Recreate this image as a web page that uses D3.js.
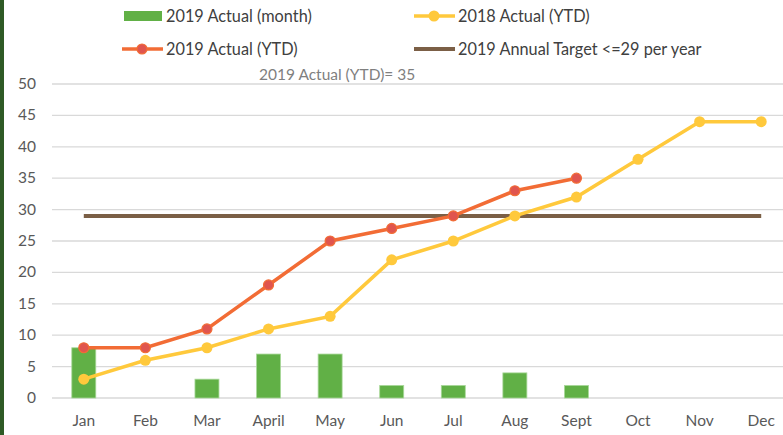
<!DOCTYPE html>
<html>
<head>
<meta charset="utf-8">
<script src="https://cdn.jsdelivr.net/npm/d3@7"></script>
<style>
  body { margin: 0; background: #fff; }
  svg { display: block; font-family: Lato, "Open Sans", sans-serif; }
</style>
</head>
<body>
<script>
const months = ['Jan', 'Feb', 'Mar', 'April', 'May', 'Jun', 'Jul', 'Aug', 'Sept', 'Oct', 'Nov', 'Dec'];
const actualMonth2019 = [8, 0, 3, 7, 7, 2, 2, 4, 2];
const actualYtd2019 = [8, 8, 11, 18, 25, 27, 29, 33, 35];
const actualYtd2018 = [3, 6, 8, 11, 13, 22, 25, 29, 32, 38, 44, 44];
const target2019 = 29;
const yTicks = [0, 5, 10, 15, 20, 25, 30, 35, 40, 45, 50];

const width = 783, height = 435;

const svg = d3.select('body')
  .append('svg')
  .attr('width', width)
  .attr('height', height);

// dark green strip on the left edge
svg.append('rect')
  .attr('x', 0).attr('y', 0)
  .attr('width', 4).attr('height', height)
  .attr('fill', '#2e5a25');

const x = d3.scaleBand()
  .domain(months)
  .range([53, 792]);

const y = d3.scaleLinear()
  .domain([0, 50])
  .range([398, 84]);

const cx = m => x(m) + x.bandwidth() / 2;

// gridlines
svg.selectAll('.grid')
  .data(yTicks)
  .enter()
  .append('line')
  .attr('x1', 52)
  .attr('x2', width)
  .attr('y1', d => y(d))
  .attr('y2', d => y(d))
  .attr('stroke', '#d9d9d9')
  .attr('stroke-width', 1.3);

// y labels
svg.selectAll('.ylab')
  .data(yTicks)
  .enter()
  .append('text')
  .attr('x', 36)
  .attr('y', d => y(d) + 5)
  .attr('text-anchor', 'end')
  .attr('font-size', 15.5)
  .attr('fill', '#595959')
  .text(d => d);

// x labels
svg.selectAll('.xlab')
  .data(months)
  .enter()
  .append('text')
  .attr('x', d => cx(d))
  .attr('y', 426)
  .attr('text-anchor', 'middle')
  .attr('font-size', 15.5)
  .attr('fill', '#595959')
  .text(d => d);

// monthly bars
svg.selectAll('.bar')
  .data(actualMonth2019)
  .enter()
  .append('rect')
  .attr('x', (d, i) => cx(months[i]) - 12)
  .attr('width', 24)
  .attr('y', d => y(d))
  .attr('height', d => y(0) - y(d))
  .attr('fill', '#61b046')
  .attr('stroke', '#a9d89a')
  .attr('stroke-width', 0.8);

// target line
svg.append('line')
  .attr('x1', cx(months[0]))
  .attr('x2', cx(months[11]))
  .attr('y1', y(target2019))
  .attr('y2', y(target2019))
  .attr('stroke', '#7b5f46')
  .attr('stroke-width', 4);

const line = d3.line()
  .x((d, i) => cx(months[i]))
  .y(d => y(d));

// 2018 YTD
svg.append('path')
  .datum(actualYtd2018)
  .attr('d', line)
  .attr('fill', 'none')
  .attr('stroke', '#ffc93c')
  .attr('stroke-width', 3.5);

svg.selectAll('.pt2018')
  .data(actualYtd2018)
  .enter()
  .append('circle')
  .attr('cx', (d, i) => cx(months[i]))
  .attr('cy', d => y(d))
  .attr('r', 5.5)
  .attr('fill', '#ffc93c');

// 2019 YTD
svg.append('path')
  .datum(actualYtd2019)
  .attr('d', line)
  .attr('fill', 'none')
  .attr('stroke', '#f26c35')
  .attr('stroke-width', 3.5);

svg.selectAll('.pt2019')
  .data(actualYtd2019)
  .enter()
  .append('circle')
  .attr('cx', (d, i) => cx(months[i]))
  .attr('cy', d => y(d))
  .attr('r', 5)
  .attr('fill', '#e0554e')
  .attr('stroke', '#f26c35')
  .attr('stroke-width', 1.2);

// annotation
svg.append('text')
  .attr('x', 259)
  .attr('y', 80)
  .attr('font-size', 15.5)
  .attr('fill', '#7f7f7f')
  .text('2019 Actual (YTD)= ' + actualYtd2019[actualYtd2019.length - 1]);

// legend
const legend = svg.append('g').attr('font-size', 16.3).attr('fill', '#404040');

legend.append('rect')
  .attr('x', 124).attr('y', 11)
  .attr('width', 38).attr('height', 10)
  .attr('fill', '#61b046');
legend.append('text').attr('x', 166).attr('y', 21.5).text('2019 Actual (month)');

legend.append('line')
  .attr('x1', 414).attr('x2', 455).attr('y1', 16).attr('y2', 16)
  .attr('stroke', '#ffc93c').attr('stroke-width', 3.5);
legend.append('circle')
  .attr('cx', 434).attr('cy', 16).attr('r', 5.5).attr('fill', '#ffc93c');
legend.append('text').attr('x', 458).attr('y', 21.5).text('2018 Actual (YTD)');

legend.append('line')
  .attr('x1', 122).attr('x2', 163).attr('y1', 49).attr('y2', 49)
  .attr('stroke', '#f26c35').attr('stroke-width', 3.5);
legend.append('circle')
  .attr('cx', 142).attr('cy', 49).attr('r', 5)
  .attr('fill', '#e0554e').attr('stroke', '#f26c35').attr('stroke-width', 1.2);
legend.append('text').attr('x', 166).attr('y', 54.5).text('2019 Actual (YTD)');

legend.append('line')
  .attr('x1', 414).attr('x2', 455).attr('y1', 49).attr('y2', 49)
  .attr('stroke', '#7b5f46').attr('stroke-width', 4);
legend.append('text').attr('x', 458).attr('y', 54.5).text('2019 Annual Target <=29 per year');
</script>
</body>
</html>
